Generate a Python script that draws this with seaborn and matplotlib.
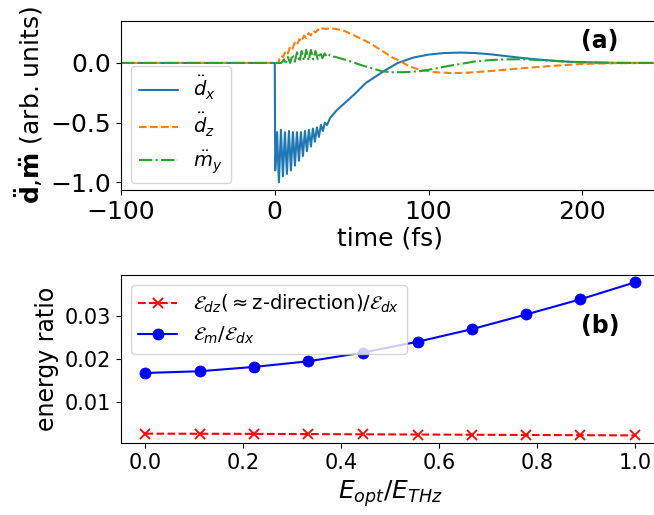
import matplotlib
matplotlib.use('Agg')
import matplotlib.pyplot as plt
import numpy as np
import pandas as pd
import seaborn as sns

# ---- panel (a): time traces ----
t_dx = [-100, 0, 0.3, 1.5, 2.7, 4.0, 5.3, 6.6, 7.9, 9.2, 10.5, 11.8, 13.1, 14.4, 15.7, 17.0,
        18.3, 19.6, 20.9, 22.2, 23.5, 24.8, 26.1, 27.4, 28.7, 30.0, 31.3, 32.6, 34, 36, 40,
        46, 52, 59, 66, 72, 80, 90, 100, 110, 121, 130, 140, 150, 160, 170, 180, 190, 200,
        220, 250]
dx = [0, 0, -0.90, -0.58, -1.00, -0.56, -0.95, -0.58, -0.93, -0.57, -0.90, -0.58, -0.86,
      -0.58, -0.82, -0.58, -0.78, -0.57, -0.74, -0.56, -0.70, -0.55, -0.66, -0.54, -0.62,
      -0.52, -0.57, -0.50, -0.52, -0.46, -0.40, -0.33, -0.26, -0.17, -0.11, -0.06, 0.0,
      0.045, 0.07, 0.083, 0.087, 0.083, 0.073, 0.058, 0.043, 0.03, 0.02, 0.011, 0.006,
      0.001, 0]

t_dz = [-100, 2.5, 3, 4, 5.5, 7, 8.5, 10, 11.5, 13, 14.5, 16, 17.5, 19, 20.5, 22, 23.5, 25,
        26.5, 28, 29.5, 31, 33, 36, 40, 45, 50, 55, 62, 70, 76, 82, 88, 95, 105, 116, 125,
        140, 160, 180, 200, 220, 250]
dz = [0, 0, 0.03, 0.06, 0.05, 0.10, 0.08, 0.14, 0.12, 0.17, 0.15, 0.20, 0.18, 0.23, 0.21,
      0.25, 0.23, 0.27, 0.255, 0.28, 0.27, 0.29, 0.285, 0.29, 0.285, 0.27, 0.24, 0.21, 0.165,
      0.10, 0.05, 0.01, -0.03, -0.06, -0.078, -0.085, -0.082, -0.068, -0.045, -0.025, -0.008,
      -0.002, 0]

t_my = [-100, 4, 5, 6, 7, 8.5, 10, 11.5, 13, 14.5, 16, 17.5, 19, 20.5, 22, 23.5, 25, 26.5,
        28, 29.5, 31, 32.5, 34, 36, 38, 41, 45, 50, 56, 63, 70, 76, 85, 95, 105, 113, 121,
        130, 140, 150, 160, 170, 181, 195, 210, 230, 250]
my = [0, 0, 0.01, 0.03, -0.01, 0.05, 0.0, 0.07, 0.01, 0.09, 0.01, 0.10, 0.02, 0.11, 0.02,
      0.11, 0.03, 0.10, 0.03, 0.09, 0.04, 0.08, 0.05, 0.07, 0.055, 0.045, 0.03, 0.01, -0.017,
      -0.045, -0.07, -0.078, -0.077, -0.068, -0.045, -0.025, -0.008, 0.012, 0.024, 0.03,
      0.031, 0.026, 0.017, 0.008, 0.003, 0.0, 0]

# ---- panel (b): energy ratios ----
e_ratio = [0.0, 0.111, 0.222, 0.333, 0.444, 0.556, 0.667, 0.778, 0.889, 1.0]
ratio_dz = [0.0028, 0.00278, 0.00275, 0.0027, 0.00265, 0.0026, 0.00255, 0.0025, 0.00245, 0.0024]
ratio_m = [0.0168, 0.0172, 0.0182, 0.0195, 0.0215, 0.0240, 0.0269, 0.0303, 0.0338, 0.0377]

sns.set_style('ticks')
plt.rcParams['font.family'] = ['DejaVu Sans']
plt.rcParams['text.color'] = 'black'
plt.rcParams['axes.labelcolor'] = 'black'
plt.rcParams['axes.edgecolor'] = 'black'
plt.rcParams['axes.linewidth'] = 0.8
plt.rcParams['xtick.color'] = 'black'
plt.rcParams['ytick.color'] = 'black'
plt.rcParams['xtick.major.size'] = 3.5
plt.rcParams['ytick.major.size'] = 3.5
plt.rcParams['xtick.major.width'] = 0.8
plt.rcParams['ytick.major.width'] = 0.8
plt.rcParams['mathtext.fontset'] = 'dejavusans'

fig = plt.figure(figsize=(6.54, 5.15), dpi=100)
ax1 = fig.add_axes([0.185, 0.631, 0.823, 0.329])
ax2 = fig.add_axes([0.185, 0.139, 0.823, 0.327])

sns.lineplot(x=t_dx, y=dx, ax=ax1, color='#1f77b4', label=r'$\ddot{d}_x$',
             sort=False, estimator=None, linewidth=1.5)
sns.lineplot(x=t_dz, y=dz, ax=ax1, color='#ff7f0e', linestyle='--', label=r'$\ddot{d}_z$',
             sort=False, estimator=None, linewidth=1.5)
sns.lineplot(x=t_my, y=my, ax=ax1, color='#2ca02c', linestyle='-.', label=r'$\ddot{m}_y$',
             sort=False, estimator=None, linewidth=1.5)
ax1.set_xlim(-100, 250)
ax1.set_ylim(-1.065, 0.355)
ax1.set_xticks([-100, 0, 100, 200])
ax1.set_yticks([-1.0, -0.5, 0.0])
ax1.tick_params(labelsize=18)
ax1.set_xlabel('time (fs)', fontsize=18, labelpad=2)
ax1.set_ylabel(r'$\mathbf{\ddot{d}}$,$\mathbf{\ddot{m}}$ (arb. units)', fontsize=18)
ax1.legend(loc='upper left', bbox_to_anchor=(0.019, 0.73), borderaxespad=0, fontsize=14,
           labelspacing=0.45)
ax1.text(0.89, 0.88, '(a)', transform=ax1.transAxes, fontsize=17, fontweight='bold',
         ha='center', va='center', color='black')

sns.lineplot(x=e_ratio, y=ratio_dz, ax=ax2, color='red', linestyle='--', marker='x',
             markersize=7, markeredgecolor='red', markeredgewidth=1.3,
             label=r'$\mathcal{E}_{dz}(\approx$z-direction)/$\mathcal{E}_{dx}$',
             sort=False, estimator=None, linewidth=1.5)
sns.lineplot(x=e_ratio, y=ratio_m, ax=ax2, color='blue', marker='o', markersize=8,
             markeredgecolor='blue', markeredgewidth=0.5,
             label=r'$\mathcal{E}_m/\mathcal{E}_{dx}$',
             sort=False, estimator=None, linewidth=1.5)
ax2.set_xlim(-0.05, 1.05)
ax2.set_ylim(0.00055, 0.0394)
ax2.set_xticks([0.0, 0.2, 0.4, 0.6, 0.8, 1.0])
ax2.set_yticks([0.01, 0.02, 0.03])
ax2.tick_params(labelsize=15)
ax2.set_xlabel(r'$E_{opt}/E_{THz}$', fontsize=18)
ax2.set_ylabel('energy ratio', fontsize=17)
ax2.legend(loc='upper left', fontsize=14)
ax2.text(0.89, 0.70, '(b)', transform=ax2.transAxes, fontsize=17, fontweight='bold',
         ha='center', va='center', color='black')

fig.savefig('out.png', dpi=100)
